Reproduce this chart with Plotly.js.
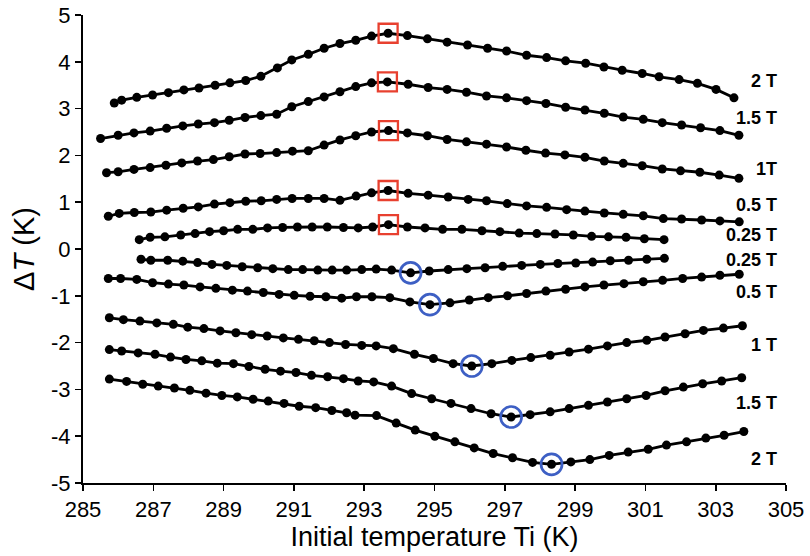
<!DOCTYPE html>
<html>
<head>
<meta charset="utf-8">
<script src="https://cdn.plot.ly/plotly-3.0.1.min.js"></script>
<style>html,body{margin:0;padding:0;background:#fff;}#chart{width:810px;height:556px;}</style>
</head>
<body>
<div id="chart"></div>
<script>
// ---- data: heating (positive) series ----
const T_h2 = [285.89,286.10,286.53,286.98,287.43,287.87,288.30,288.76,289.18,289.63,290.06,290.53,290.94,291.41,291.86,292.31,292.76,293.21,293.68,294.23,294.80,295.36,295.94,296.51,297.05,297.62,298.19,298.73,299.30,299.82,300.34,300.91,301.39,301.96,302.48,303.01,303.52];
const dT_h2 = [3.12,3.18,3.24,3.29,3.34,3.40,3.44,3.50,3.55,3.60,3.69,3.87,4.04,4.16,4.29,4.39,4.46,4.55,4.61,4.56,4.49,4.42,4.36,4.29,4.23,4.14,4.09,4.02,3.97,3.89,3.82,3.75,3.68,3.62,3.54,3.41,3.23];

const T_h15 = [285.50,286.00,286.45,286.91,287.38,287.84,288.28,288.74,289.16,289.61,290.06,290.51,290.94,291.41,291.86,292.31,292.76,293.21,293.66,294.25,294.82,295.36,295.91,296.48,297.05,297.62,298.17,298.73,299.28,299.83,300.37,300.94,301.48,302.03,302.57,303.12,303.66];
const dT_h15 = [2.36,2.43,2.48,2.52,2.58,2.63,2.67,2.70,2.75,2.81,2.85,2.88,3.04,3.15,3.25,3.36,3.47,3.55,3.57,3.52,3.45,3.41,3.35,3.27,3.23,3.17,3.11,3.03,2.97,2.90,2.82,2.77,2.70,2.65,2.59,2.53,2.43];

const T_h1 = [285.67,286.00,286.45,286.91,287.36,287.81,288.26,288.71,289.16,289.61,290.04,290.51,290.96,291.41,291.86,292.31,292.76,293.21,293.69,294.23,294.80,295.36,295.91,296.48,297.05,297.60,298.16,298.71,299.28,299.83,300.37,300.91,301.48,302.00,302.55,303.10,303.66];
const dT_h1 = [1.63,1.65,1.70,1.74,1.79,1.84,1.88,1.91,1.97,2.03,2.04,2.06,2.09,2.10,2.22,2.33,2.42,2.50,2.53,2.48,2.42,2.34,2.29,2.24,2.18,2.11,2.05,2.01,1.96,1.88,1.83,1.78,1.71,1.67,1.64,1.58,1.51];

const T_h05 = [285.72,286.03,286.46,286.93,287.38,287.85,288.28,288.74,289.18,289.63,290.07,290.51,290.95,291.41,291.86,292.31,292.77,293.21,293.68,294.25,294.82,295.39,295.96,296.48,297.07,297.62,298.19,298.76,299.28,299.83,300.37,300.94,301.51,302.03,302.60,303.12,303.67];
const dT_h05 = [0.70,0.76,0.78,0.79,0.83,0.87,0.90,0.96,0.99,1.02,1.03,1.06,1.08,1.08,1.08,1.04,1.13,1.20,1.25,1.19,1.15,1.11,1.06,1.03,0.97,0.92,0.89,0.84,0.81,0.77,0.74,0.71,0.65,0.64,0.62,0.60,0.58];

const T_h025 = [286.60,286.91,287.33,287.78,288.19,288.60,289.00,289.40,289.83,290.25,290.68,291.10,291.52,291.95,292.41,292.83,293.24,293.69,294.23,294.73,295.23,295.78,296.35,296.86,297.41,297.91,298.43,298.95,299.47,299.95,300.45,300.97,301.53];
const dT_h025 = [0.20,0.25,0.26,0.30,0.33,0.37,0.39,0.42,0.42,0.45,0.46,0.47,0.47,0.47,0.46,0.45,0.47,0.52,0.47,0.45,0.42,0.42,0.39,0.37,0.34,0.33,0.32,0.30,0.27,0.26,0.25,0.22,0.20];

// ---- data: cooling (negative) series ----
const T_c025 = [286.65,286.93,287.41,287.84,288.26,288.67,289.09,289.53,289.97,290.40,290.84,291.25,291.68,292.09,292.50,292.93,293.34,293.78,294.32,294.85,295.39,295.92,296.44,296.94,297.48,298.01,298.51,299.02,299.50,300.00,300.52,301.04,301.54];
const dT_c025 = [-0.22,-0.24,-0.24,-0.26,-0.29,-0.33,-0.35,-0.38,-0.40,-0.42,-0.44,-0.44,-0.45,-0.45,-0.45,-0.44,-0.43,-0.45,-0.51,-0.47,-0.44,-0.42,-0.40,-0.37,-0.35,-0.33,-0.31,-0.30,-0.28,-0.25,-0.24,-0.22,-0.20];

const T_c05 = [285.72,286.07,286.53,286.98,287.43,287.87,288.33,288.78,289.25,289.68,290.13,290.58,291.01,291.46,291.91,292.36,292.78,293.22,293.73,294.30,294.87,295.44,295.99,296.53,297.08,297.62,298.17,298.73,299.28,299.82,300.39,300.94,301.49,302.06,302.60,303.12,303.67];
const dT_c05 = [-0.63,-0.63,-0.65,-0.72,-0.75,-0.77,-0.81,-0.84,-0.88,-0.90,-0.93,-0.97,-0.99,-1.01,-1.02,-1.05,-1.02,-1.02,-1.04,-1.13,-1.19,-1.15,-1.09,-1.04,-1.00,-0.95,-0.90,-0.86,-0.81,-0.77,-0.74,-0.70,-0.67,-0.63,-0.60,-0.56,-0.54];

const T_c1 = [285.75,286.15,286.62,287.10,287.57,287.98,288.44,288.90,289.35,289.80,290.24,290.70,291.13,291.58,292.01,292.47,292.93,293.34,293.83,294.43,294.97,295.53,296.06,296.63,297.20,297.74,298.29,298.83,299.38,299.92,300.47,301.04,301.56,302.13,302.65,303.22,303.76];
const dT_c1 = [-1.47,-1.51,-1.54,-1.58,-1.61,-1.67,-1.70,-1.75,-1.79,-1.83,-1.86,-1.90,-1.93,-1.96,-2.00,-2.04,-2.06,-2.07,-2.13,-2.25,-2.34,-2.45,-2.50,-2.45,-2.38,-2.32,-2.27,-2.20,-2.14,-2.07,-2.00,-1.95,-1.88,-1.81,-1.74,-1.69,-1.64];

const T_c15 = [285.75,286.10,286.57,287.05,287.49,287.93,288.38,288.82,289.28,289.72,290.18,290.62,291.06,291.50,291.96,292.41,292.83,293.27,293.78,294.35,294.92,295.47,296.04,296.61,297.18,297.72,298.29,298.83,299.38,299.92,300.47,301.02,301.56,302.08,302.63,303.17,303.74];
const dT_c15 = [-2.15,-2.18,-2.22,-2.25,-2.31,-2.36,-2.39,-2.44,-2.45,-2.51,-2.57,-2.61,-2.64,-2.70,-2.73,-2.77,-2.82,-2.84,-2.93,-3.09,-3.20,-3.30,-3.41,-3.52,-3.59,-3.54,-3.48,-3.41,-3.34,-3.27,-3.20,-3.13,-3.03,-2.95,-2.88,-2.82,-2.75];

const T_c2 = [285.75,286.24,286.70,287.14,287.60,288.04,288.50,288.95,289.39,289.84,290.27,290.72,291.15,291.62,292.08,292.50,292.74,293.35,293.91,294.45,295.01,295.58,296.13,296.67,297.22,297.79,298.33,298.88,299.42,299.97,300.51,301.08,301.60,302.17,302.72,303.24,303.80];
const dT_c2 = [-2.78,-2.83,-2.89,-2.93,-2.97,-3.02,-3.08,-3.13,-3.16,-3.21,-3.25,-3.30,-3.36,-3.39,-3.45,-3.50,-3.55,-3.56,-3.72,-3.87,-4.00,-4.12,-4.25,-4.37,-4.46,-4.56,-4.60,-4.55,-4.50,-4.41,-4.34,-4.28,-4.19,-4.12,-4.04,-3.98,-3.90];

// ---- series labels ----
const labelText = ['2 T','1.5 T','1T','0.5 T','0.25 T','0.25 T','0.5 T','1 T','1.5 T','2 T'];
const labelY = [3.59,2.79,1.70,0.94,0.30,-0.24,-0.92,-2.06,-3.29,-4.48];
const labelX = 304.8;

const heating = [[T_h2,dT_h2],[T_h15,dT_h15],[T_h1,dT_h1],[T_h05,dT_h05],[T_h025,dT_h025]];
const cooling = [[T_c025,dT_c025],[T_c05,dT_c05],[T_c1,dT_c1],[T_c15,dT_c15],[T_c2,dT_c2]];

const traces = [];
heating.concat(cooling).forEach(function(s){
  traces.push({x:s[0], y:s[1], type:'scatter', mode:'lines+markers',
    line:{color:'#000', width:2.8}, marker:{color:'#000', size:9},
    showlegend:false, hoverinfo:'skip'});
});

// peak / valley markers taken from the data
const sqX=[], sqY=[], ciX=[], ciY=[];
heating.forEach(function(s){
  let k=0; s[1].forEach(function(v,i){ if(v>s[1][k]) k=i; });
  sqX.push(s[0][k]); sqY.push(s[1][k]);
});
cooling.forEach(function(s){
  let k=0; s[1].forEach(function(v,i){ if(v<s[1][k]) k=i; });
  ciX.push(s[0][k]); ciY.push(s[1][k]);
});
traces.push({x:sqX, y:sqY, type:'scatter', mode:'markers', showlegend:false, hoverinfo:'skip',
  marker:{symbol:'square-open', size:19, color:'#e8402f', line:{width:2.3, color:'#e8402f'}}});
traces.push({x:ciX, y:ciY, type:'scatter', mode:'markers', showlegend:false, hoverinfo:'skip',
  marker:{symbol:'circle-open', size:21, color:'#3d5fc4', line:{width:2.7, color:'#3d5fc4'}}});

const annotations = labelText.map(function(t,i){
  return {x:labelX, y:labelY[i], xref:'x', yref:'y', text:'<b>'+t+'</b>', showarrow:false,
    xanchor:'right', yanchor:'middle', font:{family:'Liberation Sans, Arial, sans-serif', size:18, color:'#000'}};
});

const xt=[]; for(let v=285; v<=305; v+=2) xt.push(v);
const yt=[]; for(let v=-5; v<=5; v+=1) yt.push(v);

const fontFam = 'Liberation Sans, Arial, sans-serif';
const layout = {
  width:810, height:556,
  margin:{l:83, r:24, t:15, b:73},
  paper_bgcolor:'#fff', plot_bgcolor:'#fff',
  showlegend:false,
  xaxis:{range:[285,305], tickvals:xt, ticktext:xt.map(String), ticks:'outside', ticklen:6, tickwidth:1.6, tickcolor:'#000',
    showline:true, linewidth:2, linecolor:'#000', showgrid:false, zeroline:false,
    tickfont:{family:fontFam, size:22, color:'#000'},
    title:{text:'Initial temperature Ti (K)', font:{family:fontFam, size:27, color:'#000'}, standoff:6}},
  yaxis:{range:[-5,5], tickvals:yt, ticktext:yt.map(String), ticks:'outside', ticklen:6, tickwidth:1.6, tickcolor:'#000',
    showline:true, linewidth:2, linecolor:'#000', showgrid:false, zeroline:false,
    tickfont:{family:fontFam, size:22, color:'#000'},
    title:{text:'\u0394<i>T</i> (K)', font:{family:fontFam, size:29, color:'#000'}, standoff:8}},
  annotations:annotations
};

Plotly.newPlot('chart', traces, layout, {displayModeBar:false, staticPlot:true});
</script>
</body>
</html>
